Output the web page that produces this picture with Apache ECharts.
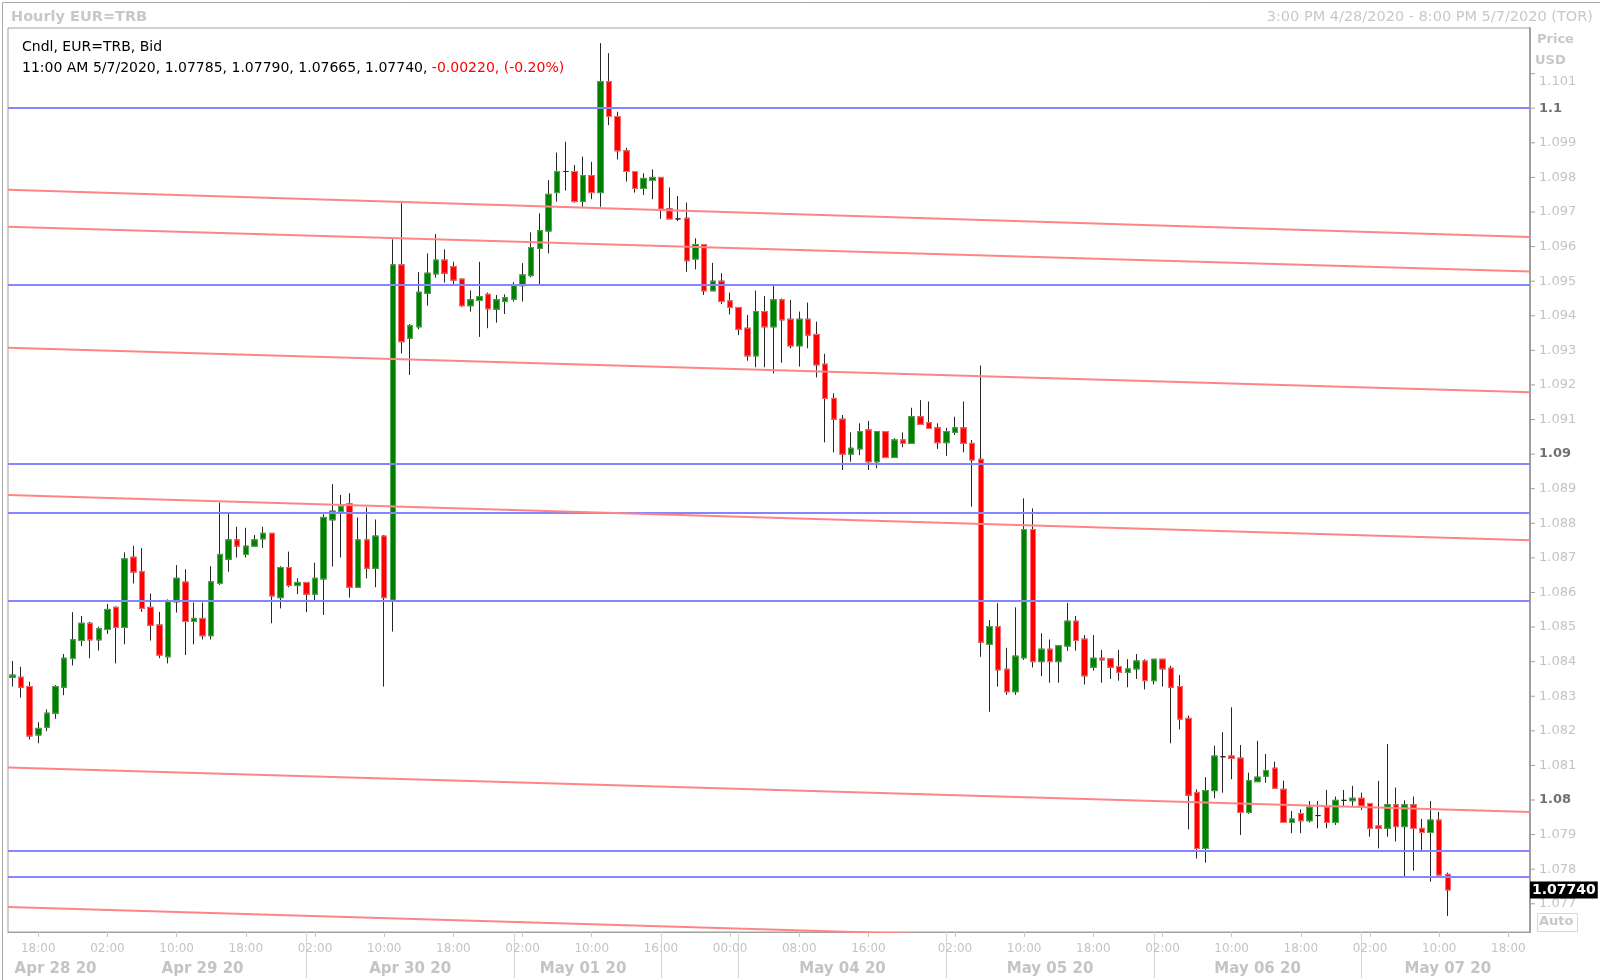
<!DOCTYPE html>
<html><head><meta charset="utf-8">
<script src="https://cdn.jsdelivr.net/npm/echarts@6.0.0/dist/echarts.min.js"></script>
<style>html,body{margin:0;padding:0;background:#fff}#c{width:1600px;height:980px}</style>
</head><body><div id="c"></div>
<script>
// ---- data (hourly EUR=TRB, Toronto time) ----
const segments = [["2020-04-28", 15, 75], ["2020-05-03", 16, 101]]; // [date, start hour, count]
const opens = [1.08355,1.08355,1.08328,1.08188,1.08210,1.08251,1.08326,1.08409,1.08461,1.08511,
1.08463,1.08493,1.08557,1.08499,1.08702,1.08660,1.08557,1.08506,1.08414,1.08573,
1.08630,1.08516,1.08525,1.08475,1.08626,1.08696,1.08752,1.08710,1.08734,1.08755,
1.08771,1.08585,1.08672,1.08620,1.08629,1.08595,1.08639,1.08810,1.08834,1.08856,
1.08615,1.08752,1.08670,1.08763,1.08578,1.09547,1.09335,1.09368,1.09465,1.09521,
1.09561,1.09542,1.09506,1.09429,1.09444,1.09462,1.09419,1.09441,1.09448,1.09487,
1.09516,1.09595,1.09645,1.09756,1.09817,1.09817,1.09730,1.09805,1.09756,1.10077,
1.09976,1.09877,1.09817,1.09768,1.09791,1.09800,1.09709,1.09680,1.09682,1.09564,
1.09606,1.09472,1.09500,1.09443,1.09424,1.09364,1.09284,1.09412,1.09368,1.09446,
1.09390,1.09313,1.09390,1.09346,1.09260,1.09161,1.09101,1.09000,1.09015,1.09070,
1.08978,1.09065,1.08990,1.09041,1.09031,1.09108,1.09091,1.09076,1.09033,1.09063,
1.09076,1.09031,1.08985,1.08450,1.08501,1.08378,1.08313,1.08411,1.08782,1.08400,
1.08436,1.08400,1.08445,1.08517,1.08465,1.08384,1.08410,1.08408,1.08386,1.08369,
1.08379,1.08402,1.08345,1.08407,1.08381,1.08328,1.08236,1.08022,1.07860,1.08027,
1.08125,1.08127,1.08121,1.07964,1.08053,1.08069,1.08092,1.08031,1.07935,1.07961,
1.07940,1.07955,1.07979,1.07935,1.07999,1.07998,1.08005,1.07990,1.07925,1.07918,
1.07986,1.07923,1.07986,1.07918,1.07906,1.07942,1.07785];
const highs = [1.08402,1.08385,1.08342,1.08225,1.08262,1.08332,1.08422,1.08543,1.08532,1.08515,
1.08501,1.08567,1.08560,1.08716,1.08735,1.08728,1.08597,1.08544,1.08580,1.08679,
1.08667,1.08571,1.08571,1.08676,1.08860,1.08829,1.08790,1.08787,1.08766,1.08790,
1.08771,1.08676,1.08718,1.08641,1.08629,1.08686,1.08826,1.08913,1.08882,1.08887,
1.08817,1.08846,1.08811,1.08766,1.09621,1.09725,1.09376,1.09526,1.09580,1.09636,
1.09592,1.09556,1.09506,1.09473,1.09556,1.09467,1.09460,1.09462,1.09497,1.09552,
1.09641,1.09696,1.09792,1.09872,1.09903,1.09836,1.09860,1.09845,1.10188,1.10159,
1.09990,1.09886,1.09817,1.09812,1.09823,1.09800,1.09771,1.09746,1.09727,1.09624,
1.09606,1.09553,1.09523,1.09467,1.09424,1.09402,1.09473,1.09457,1.09487,1.09450,
1.09446,1.09412,1.09438,1.09383,1.09290,1.09176,1.09113,1.09063,1.09089,1.09096,
1.09065,1.09065,1.09046,1.09063,1.09134,1.09156,1.09152,1.09089,1.09076,1.09108,
1.09152,1.09041,1.09256,1.08520,1.08569,1.08440,1.08557,1.08872,1.08843,1.08482,
1.08464,1.08446,1.08570,1.08532,1.08477,1.08477,1.08434,1.08410,1.08434,1.08407,
1.08422,1.08407,1.08407,1.08407,1.08388,1.08361,1.08244,1.08031,1.08066,1.08157,
1.08196,1.08268,1.08159,1.08079,1.08171,1.08133,1.08111,1.08056,1.07968,1.07973,
1.07997,1.07997,1.08029,1.08010,1.08029,1.08041,1.08021,1.07990,1.08055,1.08162,
1.08036,1.07999,1.08010,1.07945,1.07997,1.07966,1.07790];
const lows = [1.08328,1.08296,1.08175,1.08164,1.08199,1.08235,1.08303,1.08389,1.08445,1.08410,
1.08432,1.08480,1.08395,1.08450,1.08626,1.08544,1.08461,1.08410,1.08395,1.08542,
1.08419,1.08450,1.08464,1.08464,1.08622,1.08660,1.08701,1.08701,1.08734,1.08729,
1.08511,1.08554,1.08615,1.08595,1.08543,1.08576,1.08535,1.08675,1.08701,1.08585,
1.08615,1.08641,1.08615,1.08328,1.08487,1.09291,1.09229,1.09361,1.09429,1.09510,
1.09496,1.09491,1.09426,1.09412,1.09339,1.09364,1.09380,1.09405,1.09441,1.09441,
1.09511,1.09491,1.09580,1.09730,1.09762,1.09727,1.09715,1.09737,1.09715,1.09951,
1.09852,1.09788,1.09756,1.09749,1.09737,1.09680,1.09680,1.09674,1.09527,1.09534,
1.09460,1.09472,1.09434,1.09404,1.09344,1.09270,1.09251,1.09251,1.09233,1.09264,
1.09306,1.09253,1.09306,1.09222,1.09034,1.09005,1.08954,1.08978,1.08997,1.08954,
1.08959,1.08990,1.08990,1.09020,1.09031,1.09086,1.09074,1.09015,1.08995,1.09055,
1.09005,1.08848,1.08414,1.08255,1.08328,1.08304,1.08304,1.08405,1.08383,1.08358,
1.08339,1.08339,1.08431,1.08432,1.08334,1.08374,1.08339,1.08350,1.08345,1.08326,
1.08350,1.08320,1.08334,1.08328,1.08164,1.08204,1.07915,1.07831,1.07819,1.08005,
1.08021,1.08060,1.07899,1.07960,1.08053,1.08050,1.08034,1.07935,1.07904,1.07904,
1.07935,1.07918,1.07918,1.07928,1.07981,1.07983,1.07971,1.07894,1.07860,1.07894,
1.07880,1.07780,1.07796,1.07854,1.07764,1.07783,1.07665];
const closes = [1.08361,1.08326,1.08185,1.08207,1.08251,1.08328,1.08410,1.08463,1.08511,1.08463,
1.08495,1.08551,1.08499,1.08697,1.08659,1.08554,1.08505,1.08419,1.08573,1.08641,
1.08516,1.08525,1.08475,1.08631,1.08710,1.08752,1.08734,1.08734,1.08752,1.08771,
1.08590,1.08672,1.08620,1.08629,1.08595,1.08641,1.08817,1.08835,1.08848,1.08615,
1.08752,1.08670,1.08763,1.08585,1.09547,1.09325,1.09371,1.09468,1.09523,1.09561,
1.09523,1.09503,1.09429,1.09446,1.09455,1.09420,1.09446,1.09452,1.09487,1.09518,
1.09597,1.09646,1.09751,1.09817,1.09817,1.09730,1.09805,1.09756,1.10077,1.09976,
1.09877,1.09817,1.09768,1.09797,1.09800,1.09709,1.09680,1.09680,1.09559,1.09606,
1.09472,1.09500,1.09441,1.09424,1.09361,1.09284,1.09412,1.09368,1.09446,1.09388,
1.09313,1.09390,1.09344,1.09258,1.09161,1.09101,1.09000,1.09017,1.09065,1.08978,
1.09065,1.08990,1.09041,1.09031,1.09108,1.09086,1.09074,1.09033,1.09065,1.09076,
1.09031,1.08983,1.08456,1.08501,1.08376,1.08313,1.08416,1.08782,1.08400,1.08436,
1.08400,1.08446,1.08517,1.08461,1.08359,1.08410,1.08405,1.08384,1.08369,1.08379,
1.08402,1.08345,1.08407,1.08379,1.08326,1.08234,1.08014,1.07860,1.08027,1.08127,
1.08125,1.08120,1.07964,1.08056,1.08066,1.08085,1.08034,1.07935,1.07945,1.07940,
1.07979,1.07955,1.07935,1.07999,1.07999,1.08005,1.07983,1.07918,1.07918,1.07986,
1.07923,1.07986,1.07918,1.07906,1.07942,1.07783,1.07740];
const lastChange = "-0.00220, (-0.20%)";

// horizontal (blue) levels and sloping (red) trend lines [startValue, endValue]
const blueLevels = [1.1, 1.09489, 1.08973, 1.08831, 1.08575, 1.07852, 1.07778];
const redLineStart = [1.097644, 1.096574, 1.093076, 1.088815, 1.080942, 1.076907];
const redLineEnd   = [1.096276, 1.095276, 1.091787, 1.087508, 1.079653, 1.075606];

// axis ticks and labels
const yTicks = [1.077,1.078,1.079,1.08,1.081,1.082,1.083,1.084,1.085,1.086,1.087,1.088,1.089,
  1.09,1.091,1.092,1.093,1.094,1.095,1.096,1.097,1.098,1.099,1.1,1.101];
const boldYTicks = ["1.1", "1.09", "1.08"];
const timeTickIdx = [3,11,19,27,35,43,51,59,67,75,83,91,99,109,117,125,133,141,149,157,165,173];
const timeTickText = ["18:00","02:00","10:00","18:00","02:00","10:00","18:00","02:00","10:00","16:00","00:00","08:00","16:00","02:00","10:00","18:00","02:00","10:00","18:00","02:00","10:00","18:00"];
const dateLabelIdx = [5,22,46,66,96,120,144,166];
const dateLabelText = ["Apr 28 20","Apr 29 20","Apr 30 20","May 01 20","May 04 20","May 05 20","May 06 20","May 07 20"];
const daySeparatorIdx = [34,58,75,84,108,132,156];

// ---- build ----
const categories = [];
segments.forEach(([d, h0, n]) => {
  const base = new Date(d + "T00:00:00Z").getTime();
  for (let k = 0; k < n; k++) {
    const t = new Date(base + (h0 + k) * 3600000);
    categories.push(t.toISOString().slice(0, 13).replace("T", " ") + ":00");
  }
});
const nCat = categories.length;
const wickData = opens.map((o, i) => [o, closes[i], lows[i], highs[i]]);
const bodyData = opens.map((o, i) => Math.abs(o - closes[i]) < 0.00003 ? '-' :
  [o, closes[i], Math.min(o, closes[i]), Math.max(o, closes[i])]);
const last = opens.length - 1;
const timeLabelMap = {}; timeTickIdx.forEach((ix, k) => timeLabelMap[ix] = timeTickText[k]);
const dateLabelMap = {}; dateLabelIdx.forEach((ix, k) => dateLabelMap[ix] = dateLabelText[k]);
const sepSet = new Set(daySeparatorIdx);

const FONT = "DejaVu Sans";
const Y_MIN = 1.076184, Y_MAX = 1.102319;
const GRID = {left: 8, top: 28, width: 1522, height: 904};

const redSeries = redLineStart.map((s, k) => ({
  type: 'line', xAxisIndex: 2, yAxisIndex: 0, symbol: 'none', silent: true, z: 6,
  data: [[-0.5, s], [nCat - 0.5, redLineEnd[k]]],
  lineStyle: {color: '#ff8585', width: 2}, clip: true
}));

const chart = echarts.init(document.getElementById('c'), null, {renderer: 'canvas'});
chart.setOption({
  animation: false,
  backgroundColor: '#ffffff',
  grid: Object.assign({show: true, borderColor: '#a0a0a0', borderWidth: 1, backgroundColor: 'transparent'}, GRID),
  xAxis: [
    {
      type: 'category', data: categories, position: 'bottom',
      axisLine: {show: true, onZero: false, lineStyle: {color: '#a0a0a0'}},
      axisTick: {show: true, alignWithLabel: true, length: 5, lineStyle: {color: '#c8c8c8'},
        interval: (i) => timeLabelMap[i] !== undefined},
      axisLabel: {interval: (i) => timeLabelMap[i] !== undefined, formatter: (v, i) => timeLabelMap[i] || '',
        color: '#c4c4c4', fontFamily: FONT, fontSize: 12, margin: 11},
      splitLine: {show: false}
    },
    {
      type: 'category', data: categories, position: 'bottom',
      axisLine: {show: false, onZero: false},
      axisTick: {show: true, alignWithLabel: true, length: 46, lineStyle: {color: '#d4d4d4'},
        interval: (i) => sepSet.has(i)},
      axisLabel: {interval: (i) => dateLabelMap[i] !== undefined, formatter: (v, i) => dateLabelMap[i] || '',
        color: '#c4c4c4', fontFamily: FONT, fontSize: 15, fontWeight: 'bold', margin: 30},
      splitLine: {show: false}
    },
    {type: 'value', min: -0.5, max: nCat - 0.5, show: false, axisLine: {onZero: false}}
  ],
  yAxis: {
    type: 'value', position: 'right', min: Y_MIN, max: Y_MAX,
    splitLine: {show: false},
    axisLine: {show: true, onZero: false, lineStyle: {color: '#a0a0a0', width: 2}},
    axisTick: {show: false},
    axisLabel: {
      customValues: yTicks, margin: 1, color: '#c4c4c4', fontFamily: FONT, fontSize: 13,
      formatter: (v) => {
        const s = String(+(+v).toFixed(3));
        let st = 'n';
        if (boldYTicks.includes(s)) st = 'b';
        else if (+s === yTicks[yTicks.length - 1]) st = 't';
        return '{tk| }{' + st + '|' + s + '}';
      },
      rich: {
        tk: {width: 4, height: 1, lineHeight: 1, fontSize: 1, backgroundColor: '#a0a0a0'},
        n: {color: '#c4c4c4', fontFamily: FONT, fontSize: 13, padding: [0, 0, 0, 4]},
        b: {fontWeight: 'bold', color: '#707070', fontFamily: FONT, fontSize: 13, padding: [0, 0, 0, 4]},
        t: {color: '#c4c4c4', fontFamily: FONT, fontSize: 13, padding: [17, 0, 0, 4]}
      }
    }
  },
  series: [
    {
      type: 'candlestick', name: 'wicks', xAxisIndex: 0, data: wickData, barWidth: 6, z: 2, silent: true,
      itemStyle: {color: '#222', color0: '#222', borderColor: '#262626', borderColor0: '#262626', borderWidth: 1},
      markLine: {
        silent: true, symbol: 'none', animation: false, precision: 5, z: 6,
        data: blueLevels.map(v => ({yAxis: v, lineStyle: {color: '#8585ff', width: 2, type: 'solid'}, label: {show: false}}))
          .concat([{yAxis: closes[last], lineStyle: {color: 'rgba(0,0,0,0)', width: 1, type: 'solid'},
            label: {show: true, position: 'end', distance: 0, formatter: () => closes[last].toFixed(5),
              backgroundColor: '#000000', color: '#ffffff', opacity: 1, fontFamily: FONT, fontSize: 14, fontWeight: 'bold',
              padding: [2, 2, 1, 2]}}])
      }
    },
    {
      type: 'candlestick', name: 'bodies', xAxisIndex: 0, data: bodyData, barWidth: 6, z: 3, silent: true,
      itemStyle: {color: '#008000', color0: '#ff0000', borderColor: '#55aa55', borderColor0: '#ff7070', borderWidth: 1}
    }
  ].concat(redSeries),
  graphic: [
    {type: 'rect', left: 0, top: 0, shape: {width: 1599, height: 979}, silent: true,
      style: {fill: 'none', stroke: '#a8a8a8', lineWidth: 1}},
    {type: 'text', left: 11, top: 10, silent: true,
      style: {text: 'Hourly EUR=TRB', font: 'bold 14.5px "DejaVu Sans"', fill: '#c8c8c8'}},
    {type: 'text', right: 7, top: 10, silent: true,
      style: {text: '3:00 PM 4/28/2020 - 8:00 PM 5/7/2020 (TOR)', font: '14.5px "DejaVu Sans"', fill: '#c8c8c8'}},
    {type: 'text', left: 22, top: 40, silent: true,
      style: {text: 'Cndl, EUR=TRB, Bid', font: '14px "DejaVu Sans"', fill: '#000'}},
    {type: 'text', left: 22, top: 61, silent: true,
      style: {
        text: '{k|11:00 AM 5/7/2020, ' + [opens[last], highs[last], lows[last], closes[last]].map(v => v.toFixed(5)).join(', ') + ', }{r|' + lastChange + '}',
        rich: {k: {font: '14px "DejaVu Sans"', fill: '#000'}, r: {font: '14px "DejaVu Sans"', fill: '#ff0000'}}
      }},
    {type: 'text', left: 1537, top: 33, silent: true,
      style: {text: 'Price', font: 'bold 13px "DejaVu Sans"', fill: '#c8c8c8'}},
    {type: 'text', left: 1535, top: 54, silent: true,
      style: {text: 'USD', font: 'bold 13px "DejaVu Sans"', fill: '#c8c8c8'}},
    {type: 'rect', left: 1537, top: 913, shape: {width: 40, height: 18}, silent: true,
      style: {fill: '#fff', stroke: '#d8d8d8', lineWidth: 1}},
    {type: 'text', left: 1539, top: 915, silent: true,
      style: {text: 'Auto', font: 'bold 13px "DejaVu Sans"', fill: '#c8c8c8'}}
  ]
});
</script>
</body></html>
